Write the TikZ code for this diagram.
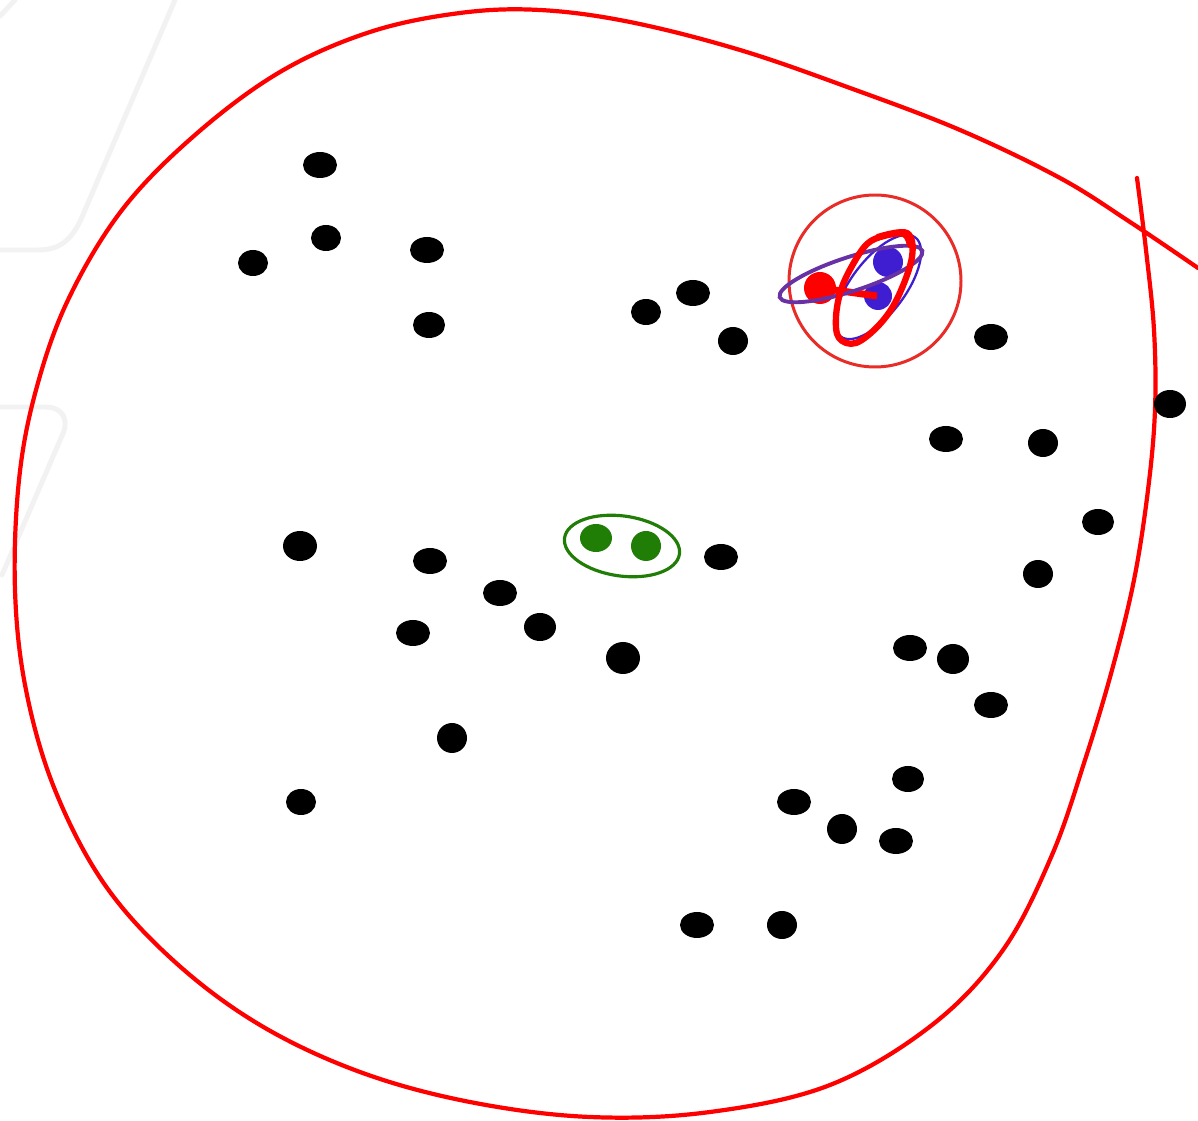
\documentclass[tikz,border=0pt]{standalone}
\definecolor{dotgreen}{RGB}{32,125,6}
\definecolor{dotblue}{RGB}{62,30,208}
\definecolor{ringpurple}{RGB}{104,50,165}
\definecolor{ringred}{RGB}{232,45,40}
\begin{document}
\begin{tikzpicture}[x=0.02cm,y=-0.02cm,
  bigred/.style={draw=red,line width=2.4pt,line cap=round,line join=round},
  faint/.style={draw=black!5,line width=2.8pt,line cap=round},
  blackdot/.style={fill=black}]
\useasboundingbox (0,0) rectangle (1198,1121);
\fill[white] (0,0) rectangle (1198,1121);
% faint background strokes
\draw[faint] (175,0) -- (85,210) .. controls (74,238) and (62,250) .. (38,250) -- (0,250);
\draw[faint] (0,16) -- (15,0);
\draw[faint] (0,407) -- (45,407) .. controls (64,407) and (70,421) .. (61,438) -- (2,575);
% big red curve
\draw[bigred] plot[smooth,tension=0.6] coordinates {
 (1137,178) (1146,250) (1154,330) (1155,410) (1148,490) (1134,580) (1112,670)
 (1085,760) (1052,855) (1003,950) (932,1025) (830,1085) (710,1112) (590,1117)
 (470,1102) (360,1072) (260,1025) (175,962) (105,885) (55,790) (26,690)
 (15,590) (19,480) (36,390) (68,300) (122,210) (195,135) (280,72) (370,32)
 (460,13) (540,10) (630,22) (740,50) (850,88) (960,130) (1060,178) (1130,222) (1198,268)};
% black dots
\foreach \x/\y/\a/\b in {320/165/17/13, 326/238/15/13, 253/263/15/13, 427/250/17/13,
 429/325/16/13, 646/312/15/13, 693/293/17/13, 733/341/15/14, 991/337/17/13,
 1170/404/16/14, 946/439/17/13, 1043/443/15/14, 1098/522/16/13, 1038/574/15/14,
 300/546/17/15, 430/561/17/13, 500/593/17/13, 540/627/16/14, 413/633/17/13,
 623/658/17/16, 721/557/17/13, 910/648/17/13, 953/659/16/15, 991/705/17/13,
 452/738/15/15, 908/779/16/13, 301/802/15/13, 794/802/17/13, 842/829/15/15,
 896/841/17/13, 697/925/17/13, 782/925/15/14}
  \fill[blackdot] (\x,\y) ellipse [x radius=\a, y radius=\b];
% green pair
\draw[dotgreen,line width=1.8pt,rotate around={-8:(622,546)}] (622,546) ellipse [x radius=58, y radius=30];
\fill[dotgreen] (596,538) ellipse [x radius=16, y radius=14];
\fill[dotgreen] (646,546) ellipse [x radius=15, y radius=15];
% top-right group
\draw[ringred,line width=1.7pt] (875,281) circle [radius=86];
\fill[dotblue] (888,262) circle [radius=15];
\fill[dotblue] (878,296) circle [radius=14];
\draw[dotblue,line width=1.3pt,rotate around={53:(878,287)}] (878,287) ellipse [x radius=62, y radius=27];
\fill[red] (820,288) circle [radius=16];
\draw[red,line width=4pt] (820,288) -- (877,296);
\draw[ringpurple,line width=2.2pt,rotate around={18:(851,274)}] (851,274) ellipse [x radius=75, y radius=17];
\draw[red,line width=3.6pt,line cap=round,line join=round] plot[smooth,tension=0.6] coordinates {
 (878,237) (907,233) (912,257) (898,297) (880,324) (856,343) (839,338) (836,317)
 (841,290) (852,266) (867,244) (884,236) (904,234) (910,245)};
\end{tikzpicture}
\end{document}
